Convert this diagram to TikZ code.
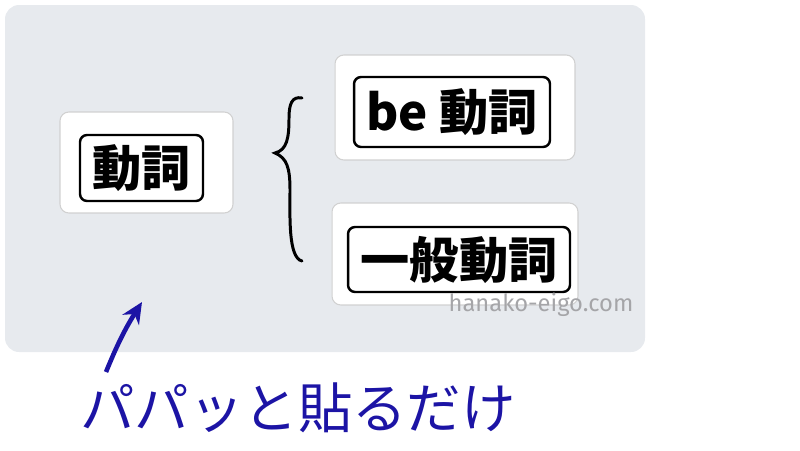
\documentclass[tikz,border=0pt]{standalone}
\usepackage{fontspec}
\newfontfamily\jp{Noto Sans CJK JP}
\newfontfamily\web{Fira Sans}
\usepackage{tikz}
\usetikzlibrary{arrows.meta}
\definecolor{board}{RGB}{231,234,238}
\definecolor{pen}{RGB}{28,20,165}
\definecolor{mark}{RGB}{165,165,168}

\begin{document}
\begin{tikzpicture}[x=0.02cm,y=-0.02cm]
\tikzstyle{card}=[rectangle,rounded corners=5pt,fill=white,draw=black!18,line width=0.6pt,inner sep=0pt]
\tikzstyle{word}=[rectangle,rounded corners=4pt,draw=black,line width=1.4pt,inner sep=0pt,font=\jp\bfseries\fontsize{28}{28}\selectfont]
\useasboundingbox (0,0) rectangle (800,450);
\fill[board,rounded corners=8pt] (5,5) rectangle (645,352);
% cards
\node[card,minimum width=3.46cm,minimum height=2.02cm] (c1) at (146.5,162.5) {};
\node[card,minimum width=4.8cm,minimum height=2.1cm] (c2) at (455,107.5) {};
\node[card,minimum width=4.92cm,minimum height=2.04cm] (c3) at (455,254) {};
\node[word,minimum width=2.46cm,minimum height=1.32cm] (1) at (141.5,168) {動詞};
\node[word,minimum width=3.92cm,minimum height=1.4cm] (2) at (452,112) {be 動詞};
\node[word,minimum width=4.44cm,minimum height=1.3cm] (3) at (459,259.5) {一般動詞};
% brace
\draw[line width=1.7pt,line cap=round] (302,98) .. controls (292,96) and (289,104) .. (289,118)
  .. controls (289,138) and (287,150) .. (275,153)
  .. controls (287,158) and (290,168) .. (290,190)
  .. controls (290,215) and (288,258) .. (302,261);
\node[text=mark,font=\web\fontsize{13.5}{14}\selectfont] (wm) at (541,305) {hanako-eigo.com};
% arrow
\coordinate (s) at (106,372);
\coordinate (e) at (142,302);
\draw[pen,line width=2.6pt,-{Stealth[length=12pt,width=11pt]}] (s) to[bend left=5] (e);
\node[text=pen,font=\jp\fontsize{31}{31}\selectfont] (t) at (298,408) {パパッと貼るだけ};
\end{tikzpicture}
\end{document}
